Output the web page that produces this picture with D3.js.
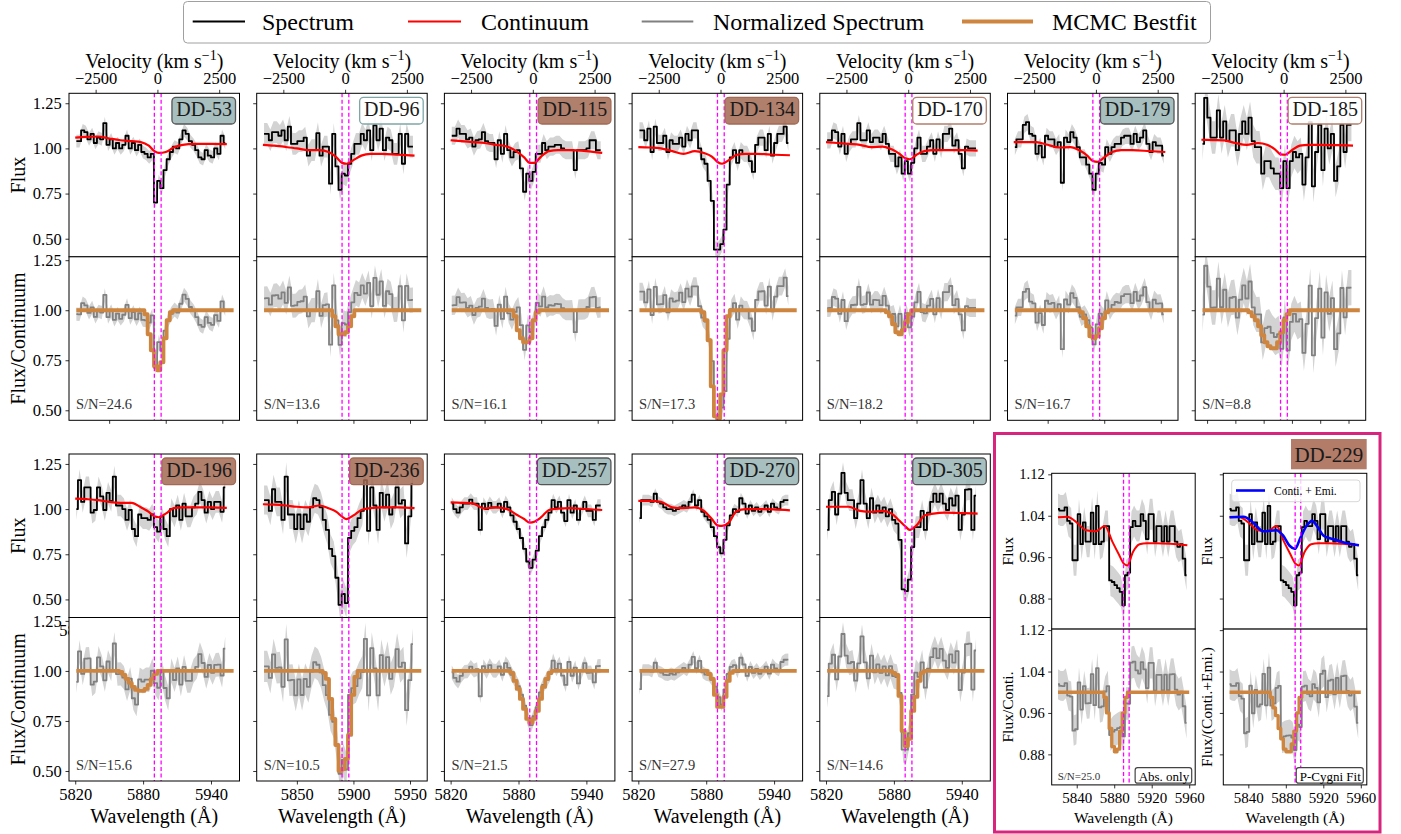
<!DOCTYPE html>
<html>
<head>
<meta charset="utf-8">
<script src="https://cdn.jsdelivr.net/npm/d3@7"></script>
<style>
body { margin: 0; background: #fff; }
</style>
</head>
<body>
<svg id="fig" width="1401" height="834"></svg>
<script>
const FONT = '"Liberation Serif", "DejaVu Serif", serif';

// galaxies, top row (7) then bottom row (5)
const names = ['DD-53', 'DD-96', 'DD-115', 'DD-134', 'DD-170', 'DD-179', 'DD-185',
               'DD-196', 'DD-236', 'DD-257', 'DD-270', 'DD-305'];
const tags = ['teal', 'tealOpen', 'brown', 'brown', 'brownOpen', 'teal', 'brownOpen',
              'brown', 'brown', 'teal', 'teal', 'teal'];
const snr = [24.6, 13.6, 16.1, 17.3, 18.2, 16.7, 8.8, 15.6, 10.5, 21.5, 27.9, 14.6];
const errs = [0.035, 0.06, 0.05, 0.045, 0.045, 0.045, 0.09, 0.06, 0.08, 0.035, 0.03, 0.06];
const xTickSets = [
  [5850, 5900, 5950], [5850, 5900, 5950], [5850, 5900, 5950], [5850, 5900, 5950],
  [5850, 5900, 5950], [5850, 5900, 5950], [5825, 5850, 5875, 5900, 5925, 5950],
  [5820, 5880, 5940], [5850, 5900, 5950], [5820, 5880, 5940], [5820, 5880, 5940], [5820, 5880, 5940]
];
const velTicks = [-2500, 0, 2500];
const fluxTicks = [0.5, 0.75, 1.0, 1.25];

// wavelength grid of the binned spectra
const grid0 = 5821, gridStep = 2.8, fitEnd = 5960;

const fluxes = [
  [1.04,1.04,1.10,1.09,1.05,1.08,1.03,1.06,1.05,1.14, 1.02,1.05,1.00,1.03,1.00,1.02,1.07,1.00,1.03,0.99,
   1.02,0.98,0.97,0.95,0.97,0.70,0.82,0.78,0.88,0.94, 0.98,1.01,1.00,1.05,1.10,1.08,1.04,1.02,0.99,0.95,
   0.94,0.99,0.96,0.95,1.00,0.97,1.07,1.03],
  [1.08,1.08,1.045,1.09,1.09,1.07,1.10,1.045,1.12,1.025, 1.025,1.04,1.04,1.06,0.96,0.99,0.99,1.085,0.96,1.01,
   1.01,0.805,1.08,0.90,0.77,0.86,0.85,0.915,0.97,1.025, 1.025,1.08,1.045,1.10,0.99,1.127,1.045,1.11,0.99,1.06,
   1.045,0.97,0.97,1.08,0.915,1.08,1.01,1.01],
  [1.07,1.07,1.11,1.08,1.08,1.05,1.06,1.01,1.045,1.05, 1.09,1.04,1.03,1.03,0.94,1.045,0.97,1.08,0.99,0.95,
   0.98,0.99,0.89,0.76,0.86,0.82,0.87,0.97,0.97,1.03, 0.99,1.01,1.01,1.02,1.02,1.00,0.99,0.99,0.99,0.88,
   0.99,0.99,0.99,1.00,1.045,1.045,0.99,0.99],
  [1.10,1.10,1.045,1.11,0.98,1.12,1.03,1.03,1.07,0.98, 1.045,1.025,1.025,1.06,1.01,1.08,1.045,1.10,1.10,1.00,
   0.94,0.915,0.82,0.71,0.44,0.44,0.47,0.55,0.80,0.95, 0.99,0.92,0.99,0.97,0.97,0.93,0.87,1.02,1.06,1.06,
   0.99,1.08,0.96,1.03,1.08,1.08,1.12,1.03],
  [1.045,1.045,1.10,1.09,1.01,1.08,0.97,1.025,1.05,1.05, 1.14,1.045,1.045,1.10,1.035,1.06,1.06,1.035,1.08,1.025,
   0.97,0.97,0.90,0.95,0.86,0.93,0.86,0.92,1.00,1.06, 0.97,0.97,1.01,1.045,0.97,1.05,0.99,1.08,1.08,1.11,
   1.015,1.045,0.97,0.89,1.01,1.00,1.00,1.00],
  [1.007,1.05,1.05,1.13,1.145,1.08,1.07,0.97,1.015,0.95, 1.07,1.05,1.05,1.007,1.035,0.81,1.06,1.035,1.09,1.06,
   1.007,0.95,0.95,0.91,0.86,0.77,0.86,0.92,0.91,1.007, 0.97,1.007,1.025,1.025,1.06,1.07,1.07,1.025,1.08,1.035,
   1.06,1.10,1.025,0.98,1.035,1.015,1.015,0.96],
  [1.025,1.28,1.17,1.06,1.06,1.21,1.06,1.15,1.04,1.10, 1.10,0.99,1.08,1.15,1.08,1.17,1.04,1.007,1.007,0.86,
   0.93,0.93,0.89,0.86,0.86,0.78,0.93,0.78,0.93,0.98, 0.95,0.97,0.80,0.95,1.145,0.79,0.98,1.13,0.88,1.11,
   1.00,1.08,0.82,0.90,1.13,0.98,1.13,1.13],
  [1.00,1.16,1.04,1.12,1.12,0.98,0.995,1.12,1.07,0.995, 1.09,1.045,1.18,1.02,1.02,1.00,0.94,0.995,0.89,0.85,
   0.97,0.95,0.95,0.94,0.97,0.90,0.875,0.96,0.89,0.85, 1.00,0.96,1.02,0.94,1.03,0.96,0.96,1.01,1.03,1.095,
   1.05,0.98,1.04,1.00,1.04,1.04,0.985,1.12],
  [1.05,1.05,0.99,1.11,1.04,1.04,0.94,1.18,0.97,0.97, 0.89,0.97,0.89,0.97,0.93,1.01,1.06,1.05,1.01,0.94,
   0.885,0.78,0.74,0.62,0.47,0.53,0.48,0.84,0.88,0.90, 0.95,0.99,1.16,0.88,1.12,1.02,0.885,1.09,1.01,1.08,
   0.97,1.01,1.12,1.03,1.05,0.81,0.96,1.14],
  [1.03,1.00,0.98,1.01,1.03,1.03,1.053,1.03,1.03,0.885, 1.03,1.00,1.035,1.01,1.01,1.03,0.985,1.04,1.01,0.965,
   0.93,0.89,0.84,0.78,0.71,0.675,0.72,0.77,0.85,0.90, 0.94,0.98,1.05,1.01,1.04,0.98,0.934,1.05,0.98,1.02,
   0.94,1.00,1.04,0.99,0.99,0.94,1.02,1.02],
  [0.95,1.05,1.05,1.05,1.04,1.085,1.04,1.03,1.01,1.00, 1.00,0.99,1.00,1.01,1.02,1.01,1.04,1.08,1.02,1.05,
   0.985,0.96,0.94,0.90,0.85,0.79,0.755,0.83,0.91,0.965, 1.00,0.985,1.06,1.03,0.975,1.02,0.99,1.01,0.985,1.00,
   1.02,0.985,1.03,1.01,1.00,1.04,1.05,1.05],
  [0.885,1.05,1.095,0.97,1.086,1.20,1.09,1.05,1.05,0.95, 1.03,1.16,1.03,0.95,1.06,0.98,1.02,0.98,1.01,0.96,
   1.00,0.94,0.92,0.83,0.556,0.546,0.61,0.79,0.90,0.90, 0.99,0.885,0.98,1.04,1.086,1.04,1.086,1.03,0.995,1.06,
   1.02,1.075,0.885,0.97,1.108,1.11,0.885,1.075]
];

// continuum knots (smooth stellar continuum)
const contWaves = [5820, 5830, 5840, 5850, 5860, 5870, 5878, 5885, 5890, 5894, 5900, 5907, 5915, 5925, 5940, 5954];
const conts = [
  [1.06,1.064,1.066,1.055,1.045,1.04,1.035,1.015,0.985,0.975,0.98,1.005,1.02,1.025,1.025,1.024],
  [1.02,1.015,1.008,1.0,0.99,0.99,0.98,0.95,0.92,0.915,0.935,0.96,0.97,0.97,0.965,0.96],
  [1.045,1.04,1.035,1.03,1.02,1.01,0.985,0.95,0.92,0.92,0.955,0.985,0.99,0.99,0.985,0.975],
  [1.007,1.005,1.0,0.985,0.97,0.985,0.975,0.955,0.925,0.915,0.935,0.965,0.97,0.97,0.965,0.962],
  [1.035,1.03,1.025,1.02,1.007,1.01,0.995,0.97,0.945,0.94,0.965,0.985,0.99,0.99,0.99,0.988],
  [1.035,1.035,1.035,1.02,1.005,1.007,0.99,0.96,0.93,0.925,0.95,0.98,0.99,0.99,0.985,0.98],
  [1.048,1.046,1.044,1.03,1.02,1.03,1.02,0.995,0.967,0.965,0.99,1.015,1.02,1.02,1.018,1.015],
  [1.058,1.055,1.05,1.04,1.035,1.035,1.01,0.985,0.96,0.955,0.975,1.005,1.01,1.01,1.01,1.007],
  [1.027,1.025,1.02,1.013,1.01,1.02,1.005,0.985,0.958,0.945,0.965,0.995,1.005,1.01,1.01,1.005],
  [1.037,1.035,1.03,1.003,1.01,1.0,0.97,0.945,0.925,0.93,0.955,0.995,1.003,1.005,1.0,0.995],
  [1.045,1.045,1.04,1.01,1.005,1.01,0.99,0.945,0.91,0.907,0.925,0.99,1.0,1.0,0.998,0.993],
  [1.013,1.013,1.013,0.99,0.985,0.99,0.975,0.935,0.905,0.885,0.91,0.965,0.975,0.98,0.978,0.975]
];

// MCMC best fit: first bin of the absorption and the model values there (1 elsewhere)
const fitStart = [22, 22, 20, 20, 19, 21, 15, 14, 19, 19, 22, 21];
const fitDips = [
  [0.98,0.88,0.80,0.72,0.70,0.74,0.86,0.95,0.99],
  [0.97,0.92,0.88,0.88,0.89,0.92,0.97],
  [0.97,0.90,0.86,0.84,0.84,0.86,0.95,0.99],
  [0.99,0.95,0.85,0.62,0.47,0.46,0.58,0.80,0.97],
  [0.99,0.97,0.93,0.89,0.88,0.90,0.94,0.98],
  [0.99,0.96,0.92,0.87,0.86,0.87,0.91,0.96,0.99],
  [0.99,0.97,0.95,0.92,0.875,0.84,0.82,0.81,0.81,0.84,0.89,0.95,0.98],
  [0.995,0.98,0.96,0.94,0.92,0.905,0.90,0.90,0.91,0.93,0.96,0.985],
  [0.99,0.96,0.86,0.76,0.63,0.50,0.51,0.56,0.68,0.88,0.97],
  [0.99,0.95,0.91,0.86,0.81,0.76,0.74,0.76,0.80,0.86,0.92,0.96,0.99],
  [0.985,0.96,0.88,0.82,0.82,0.87,0.95,0.99],
  [0.99,0.98,0.875,0.70,0.625,0.66,0.80,0.87,0.95,0.99]
];

// DD-229 (absorption only vs P-Cygni)
const d229Grid0 = 5820;
const d229Flux = [1.053,1.05,1.05,1.056,1.03,1.025,0.954,0.954,1.043,0.985, 1.027,0.99,0.99,1.046,0.985,1.059,0.985,0.99,1.02,1.02,
  0.915,0.912,0.906,0.90,0.893,0.867,0.925,0.93,1.018,1.03, 1.02,1.02,1.043,1.03,0.995,1.043,1.043,0.99,1.02,1.02,
  0.99,1.02,0.99,1.02,1.02,0.99,0.98,0.985,0.957,0.925];
const d229Err = 0.03;
const d229ContWaves = [5820, 5830, 5840, 5850, 5860, 5870, 5878, 5885, 5890, 5894, 5900, 5907, 5915, 5925, 5940, 5958];
const d229Cont = [1.037,1.038,1.027,1.012,1.01,1.02,0.99,0.965,0.948,0.944,0.97,0.985,0.987,0.987,0.986,0.983];
const emiWaves = [5820, 5835, 5845, 5856, 5870, 5877, 5884, 5890, 5895, 5902, 5908, 5914, 5920, 5930, 5941, 5958];
const emiVals = [1.037,1.038,1.027,1.01,1.012,1.002,0.982,0.976,0.995,1.02,1.03,1.018,1.002,0.995,0.989,0.983];
const d229AbsStart = 17;
const d229AbsFit = [1.0,0.99,0.96,0.93,0.895,0.885,0.89,0.925,0.96,0.99];
const d229PcygStart = 15;
const d229PcygFit = [1.0,0.99,0.97,0.955,0.93,0.91,0.89,0.885,0.885,0.90,0.925,0.96,0.99];
const d229Snr = 25.0;
const d229Ticks = [0.88, 0.96, 1.04, 1.12];
const d229XTicks = [5840, 5880, 5920, 5960];

const naD = [5889.95, 5895.92];
const legendLabels = ['Spectrum', 'Continuum', 'Normalized Spectrum', 'MCMC Bestfit'];
const legendColors = ['#000000', '#ff0000', '#808080', '#cd853f'];

const tagFill = { teal: '#98b4b4', tealOpen: '#ffffff', brown: '#a26a54', brownOpen: '#ffffff' };
const tagEdge = { teal: '#555555', tealOpen: '#7fa6a6', brown: '#a26a54', brownOpen: '#b07f6d' };

const svg = d3.select('#fig');
const pw = 170.5, ph = 163.5;
const rowTop = [93.3, 454];
const waveDomain = [5814.5, 5965.2];
const velDomain = [-3578, 3322];

let clipN = 0;
function subplot(x0, y0, w, h) {
  const id = 'clip' + (clipN++);
  svg.append('clipPath').attr('id', id)
    .append('rect').attr('x', x0).attr('y', y0).attr('width', w).attr('height', h);
  svg.append('rect').attr('x', x0).attr('y', y0).attr('width', w).attr('height', h).attr('fill', '#fff');
  return svg.append('g').attr('clip-path', `url(#${id})`);
}

function spine(x0, y0, w, h) {
  svg.append('rect').attr('x', x0).attr('y', y0).attr('width', w).attr('height', h)
    .attr('fill', 'none').attr('stroke', '#000').attr('stroke-width', 1);
}

function styleAxis(g, size) {
  g.select('.domain').remove();
  g.selectAll('.tick line').attr('stroke', '#000').attr('stroke-width', 0.8);
  g.selectAll('.tick text').attr('font-family', FONT).attr('font-size', size).attr('fill', '#000');
}

function band(g, x, y, pts) {
  g.append('path').datum(pts)
    .attr('d', d3.area().x(d => x(d[0])).y0(d => y(d[1])).y1(d => y(d[2])))
    .attr('fill', '#d3d3d3').attr('stroke', 'none');
}

function line(g, x, y, pts, color, width, curve) {
  g.append('path').datum(pts)
    .attr('d', d3.line().x(d => x(d[0])).y(d => y(d[1])).curve(curve))
    .attr('fill', 'none').attr('stroke', color).attr('stroke-width', width)
    .attr('stroke-linejoin', 'round');
}

function naDLines(g, x, y0, h) {
  naD.forEach(w => {
    g.append('line').attr('x1', x(w)).attr('x2', x(w)).attr('y1', y0).attr('y2', y0 + h)
      .attr('stroke', '#ff00ff').attr('stroke-width', 1.3).attr('stroke-dasharray', '4,2.5');
  });
}

function fitPoints(waves, start, dip, end) {
  const pts = waves.map((w, i) => {
    const j = i - start;
    return [w, j >= 0 && j < dip.length ? dip[j] : 1];
  });
  pts.push([end, 1]);
  return pts;
}

function rotLabel(txt, x, y, size) {
  svg.append('text').attr('transform', `translate(${x},${y}) rotate(-90)`)
    .attr('text-anchor', 'middle').attr('font-family', FONT).attr('font-size', size)
    .attr('fill', '#000').text(txt);
}

function tagBox(txt, style, right, top) {
  const t = svg.append('text').attr('x', right - 7.6).attr('y', top + 19)
    .attr('text-anchor', 'end').attr('font-family', FONT).attr('font-size', 20).attr('fill', '#1a1a1a')
    .text(txt);
  const bw = t.node().getComputedTextLength() + 8;
  svg.insert('rect', () => t.node())
    .attr('x', right - 4 - bw).attr('y', top).attr('width', bw).attr('height', 26.7)
    .attr('rx', 4).attr('fill', tagFill[style]).attr('fill-opacity', 0.85)
    .attr('stroke', tagEdge[style]).attr('stroke-width', 1.3);
}

function drawGalaxy(k, col, row) {
  const x0 = 69 + col * 187.7, top = rowTop[row];
  const x = d3.scaleLinear().domain(waveDomain).range([x0, x0 + pw]);
  const yU = d3.scaleLinear().domain([0.40, 1.305]).range([top + ph, top]);
  const yL = d3.scaleLinear().domain([0.45, 1.267]).range([top + 2 * ph, top + ph]);
  const cont = d3.scaleLinear().domain(contWaves).range(conts[k]);
  const e = errs[k];
  const waves = fluxes[k].map((f, i) => grid0 + i * gridStep);
  const spec = fluxes[k].map((f, i) => [waves[i], f]);
  const norm = spec.map(d => [d[0], d[1] / cont(d[0])]);
  const fit = fitPoints(waves, fitStart[k], fitDips[k], fitEnd);

  // upper panel: observed flux
  let body = subplot(x0, top, pw, ph);
  band(body, x, yU, spec.map(d => [d[0], d[1] - e, d[1] + e]));
  line(body, x, yU, spec, '#000', 1.8, d3.curveStep);
  line(body, x, yU, contWaves.map((w, i) => [w, conts[k][i]]), '#ff0000', 2.2, d3.curveMonotoneX);
  naDLines(body, x, top, ph);

  const ya = svg.append('g').attr('transform', `translate(${x0},0)`)
    .call(d3.axisLeft(yU).tickValues(fluxTicks).tickSize(3.5).tickPadding(3.8)
      .tickFormat(col === 0 ? d3.format('.2f') : () => ''));
  styleAxis(ya, 16.5);

  if (row === 1 && col === 0) {
    // hidden tick labels of the upper panel (mostly covered by the lower panel)
    const xa = svg.append('g').attr('transform', `translate(0,${top + ph})`)
      .call(d3.axisBottom(x).tickValues(xTickSets[k]).tickSize(3.5).tickPadding(3.5).tickFormat(d3.format('d')));
    styleAxis(xa, 16.5);
  }

  if (row === 0) {
    const v = d3.scaleLinear().domain(velDomain).range([x0, x0 + pw]);
    const va = svg.append('g').attr('transform', `translate(0,${top})`)
      .call(d3.axisTop(v).tickValues(velTicks).tickSize(3.5).tickPadding(6)
        .tickFormat(d => d < 0 ? '\u2212' + Math.abs(d) : String(d)));
    styleAxis(va, 16.5);
    const vt = svg.append('text').attr('x', x0 + pw / 2).attr('y', 67.5).attr('text-anchor', 'middle')
      .attr('font-family', FONT).attr('font-size', 20).attr('fill', '#000');
    vt.append('tspan').text('Velocity (km s');
    vt.append('tspan').attr('dy', -7.5).attr('font-size', 14).text('\u22121');
    vt.append('tspan').attr('dy', 7.5).text(')');
  }
  spine(x0, top, pw, ph);
  tagBox(names[k], tags[k], x0 + pw, top + 4);

  // lower panel: continuum-normalised flux and best fit
  body = subplot(x0, top + ph, pw, ph);
  band(body, x, yL, spec.map(d => [d[0], (d[1] - e) / cont(d[0]), (d[1] + e) / cont(d[0])]));
  line(body, x, yL, norm, '#808080', 1.8, d3.curveStep);
  line(body, x, yL, fit, '#cd853f', 3.8, d3.curveStep);
  naDLines(body, x, top + ph, ph);

  const yb = svg.append('g').attr('transform', `translate(${x0},0)`)
    .call(d3.axisLeft(yL).tickValues(fluxTicks).tickSize(3.5).tickPadding(3.8)
      .tickFormat(col === 0 ? d3.format('.2f') : () => ''));
  styleAxis(yb, 16.5);
  const xb = svg.append('g').attr('transform', `translate(0,${top + 2 * ph})`)
    .call(d3.axisBottom(x).tickValues(xTickSets[k]).tickSize(3.5).tickPadding(3.5)
      .tickFormat(row === 1 ? d3.format('d') : () => ''));
  styleAxis(xb, 16.5);
  spine(x0, top + ph, pw, ph);

  svg.append('text').attr('x', x0 + 7).attr('y', top + 2 * ph - 11)
    .attr('font-family', FONT).attr('font-size', 14.5).attr('fill', '#333')
    .text('S/N=' + d3.format('.1f')(snr[k]));

  if (row === 1) {
    svg.append('text').attr('x', x0 + pw / 2).attr('y', 823).attr('text-anchor', 'middle')
      .attr('font-family', FONT).attr('font-size', 20).attr('fill', '#000').text('Wavelength (\u00c5)');
  }
  if (col === 0) {
    rotLabel('Flux', 25, top + ph / 2, 20);
    rotLabel('Flux/Continuum', 25, top + 1.5 * ph, 20);
  }
}

names.forEach((n, k) => {
  const row = k < 7 ? 0 : 1;
  drawGalaxy(k, row === 0 ? k : k - 7, row);
});

// ---- DD-229 ----
function drawDD229() {
  const lefts = [1051.7, 1223.3], w = 143.5, top = 473.3, h = 155.8;
  const waves = d229Flux.map((f, i) => d229Grid0 + i * gridStep);
  const spec = d229Flux.map((f, i) => [waves[i], f]);
  const contS = d3.scaleLinear().domain(d229ContWaves).range(d229Cont);
  const emiS = d3.scaleLinear().domain(emiWaves).range(emiVals);
  const models = [contS, emiS];
  const fits = [fitPoints(waves, d229AbsStart, d229AbsFit, fitEnd), fitPoints(waves, d229PcygStart, d229PcygFit, fitEnd)];
  const lowerLabels = ['Flux/Conti.', 'Flux/(Conti.+Emi.)'];
  const boxLabels = ['Abs. only', 'P-Cygni Fit'];
  const labelGap = [38.5, 11.5];

  lefts.forEach((x0, s) => {
    const x = d3.scaleLinear().domain([5813.3, 5966.4]).range([x0, x0 + w]);
    const yU = d3.scaleLinear().domain([0.821, 1.122]).range([top + h, top]);
    const yL = d3.scaleLinear().domain([0.821, 1.122]).range([top + 2 * h, top + h]);
    const m = models[s];

    let body = subplot(x0, top, w, h);
    band(body, x, yU, spec.map(d => [d[0], d[1] - d229Err, d[1] + d229Err]));
    line(body, x, yU, spec, '#000', 1.8, d3.curveStep);
    line(body, x, yU, d229ContWaves.map((wv, i) => [wv, d229Cont[i]]), '#ff0000', 2, d3.curveMonotoneX);
    if (s === 1) line(body, x, yU, emiWaves.map((wv, i) => [wv, emiVals[i]]), '#0000ff', 2.6, d3.curveMonotoneX);
    naDLines(body, x, top, h);
    const ya = svg.append('g').attr('transform', `translate(${x0},0)`)
      .call(d3.axisLeft(yU).tickValues(d229Ticks).tickSize(3.5).tickPadding(3.5)
        .tickFormat(s === 0 ? d3.format('.2f') : () => ''));
    styleAxis(ya, 14.5);
    spine(x0, top, w, h);

    if (s === 1) {
      svg.append('rect').attr('x', 1231.7).attr('y', 480).attr('width', 128.3).attr('height', 21.7)
        .attr('rx', 3).attr('fill', '#fff').attr('fill-opacity', 0.8).attr('stroke', '#d8d8d8');
      svg.append('line').attr('x1', 1236).attr('x2', 1265).attr('y1', 490.5).attr('y2', 490.5)
        .attr('stroke', '#0000ff').attr('stroke-width', 2.6);
      svg.append('text').attr('x', 1274).attr('y', 494.5).attr('font-family', FONT)
        .attr('font-size', 11.5).attr('fill', '#000').text('Conti.  + Emi.');
    }

    body = subplot(x0, top + h, w, h);
    band(body, x, yL, spec.map(d => [d[0], (d[1] - d229Err) / m(d[0]), (d[1] + d229Err) / m(d[0])]));
    line(body, x, yL, spec.map(d => [d[0], d[1] / m(d[0])]), '#808080', 1.8, d3.curveStep);
    line(body, x, yL, fits[s], '#cd853f', 3.3, d3.curveStep);
    naDLines(body, x, top + h, h);
    const yb = svg.append('g').attr('transform', `translate(${x0},0)`)
      .call(d3.axisLeft(yL).tickValues(d229Ticks).tickSize(3.5).tickPadding(3.5)
        .tickFormat(s === 0 ? d3.format('.2f') : () => ''));
    styleAxis(yb, 14.5);
    const xb = svg.append('g').attr('transform', `translate(0,${top + 2 * h})`)
      .call(d3.axisBottom(x).tickValues(d229XTicks).tickSize(3.5).tickPadding(3.5).tickFormat(d3.format('d')));
    styleAxis(xb, 15);
    spine(x0, top + h, w, h);

    // fit-type box in the lower right corner
    const bt = svg.append('text').attr('x', x0 + w - 6).attr('y', 780.5).attr('text-anchor', 'end')
      .attr('font-family', FONT).attr('font-size', 13).attr('fill', '#000').text(boxLabels[s]);
    const bw = bt.node().getComputedTextLength() + 6;
    svg.insert('rect', () => bt.node()).attr('x', x0 + w - 3.5 - bw).attr('y', 767.7)
      .attr('width', bw).attr('height', 15.5).attr('rx', 2.5)
      .attr('fill', '#fff').attr('stroke', '#444').attr('stroke-width', 1.2);

    if (s === 0) {
      svg.append('text').attr('x', x0 + 6).attr('y', 780).attr('font-family', FONT)
        .attr('font-size', 11).attr('fill', '#333').text('S/N=' + d3.format('.1f')(d229Snr));
    }

    svg.append('text').attr('x', x0 + w / 2).attr('y', 823).attr('text-anchor', 'middle')
      .attr('font-family', FONT).attr('font-size', 15.5).attr('fill', '#000').text('Wavelength (\u00c5)');
    rotLabel('Flux', x0 - labelGap[s], top + h / 2, 15.5);
    rotLabel(lowerLabels[s], x0 - labelGap[s], top + 1.5 * h, 15.5);
  });

  svg.append('rect').attr('x', 1291).attr('y', 439).attr('width', 75.7).attr('height', 30.3)
    .attr('fill', '#b27c69');
  svg.append('text').attr('x', 1328.8).attr('y', 461.5).attr('text-anchor', 'middle')
    .attr('font-family', FONT).attr('font-size', 21).attr('fill', '#1a1a1a').text('DD-229');

  svg.append('rect').attr('x', 994.5).attr('y', 433.5).attr('width', 385.5).attr('height', 398.5)
    .attr('fill', 'none').attr('stroke', '#d6247f').attr('stroke-width', 3);
}
drawDD229();

// ---- legend ----
const legend = svg.append('g');
legend.append('rect').attr('x', 183.5).attr('y', 1.5).attr('width', 1027).attr('height', 41.5)
  .attr('rx', 4).attr('fill', '#fff').attr('stroke', '#a0a0a0').attr('stroke-width', 1);
const legLine = [[192.7, 245], [408, 461], [641.7, 693.3], [962, 1033]];
const legText = [262, 481, 713, 1052];
legendLabels.forEach((lab, i) => {
  legend.append('line').attr('x1', legLine[i][0]).attr('x2', legLine[i][1]).attr('y1', 21.5).attr('y2', 21.5)
    .attr('stroke', legendColors[i]).attr('stroke-width', i === 3 ? 4 : 2);
  legend.append('text').attr('x', legText[i]).attr('y', 29.5).attr('font-family', FONT)
    .attr('font-size', 24).attr('fill', '#000').text(lab);
});
</script>
</body>
</html>
